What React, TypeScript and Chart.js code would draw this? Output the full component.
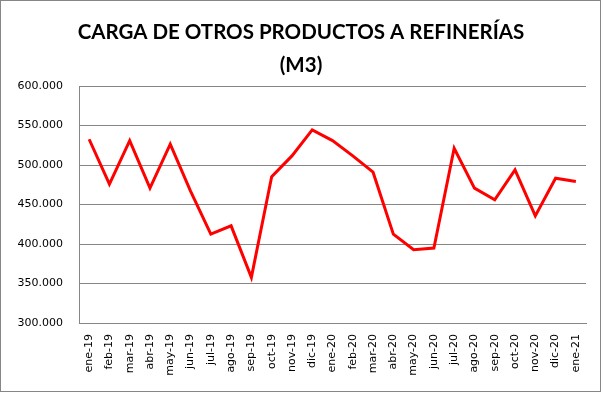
import React, { useEffect, useRef } from "react";
import { Chart, registerables } from "chart.js";

Chart.register(...registerables);

const titleLines = ["CARGA DE OTROS PRODUCTOS A REFINERÍAS", "(M3)"];

const months = [
  "ene-19", "feb-19", "mar-19", "abr-19", "may-19", "jun-19", "jul-19", "ago-19", "sep-19",
  "oct-19", "nov-19", "dic-19", "ene-20", "feb-20", "mar-20", "abr-20", "may-20", "jun-20",
  "jul-20", "ago-20", "sep-20", "oct-20", "nov-20", "dic-20", "ene-21",
];

const carga = [
  532600, 475700, 530800, 470700, 526300, 467000, 412500, 423000, 357700,
  485300, 511500, 544400, 530900, 511500, 490900, 412500, 392700, 394800,
  521200, 470700, 455900, 493800, 435600, 483300, 479000,
];

const yMin = 300000;
const yMax = 600000;
const yStep = 50000;

const fmt = (v: number) => {
  const s = Math.round(v).toString();
  return s.replace(/\B(?=(\d{3})+(?!\d))/g, ".");
};

const framePlugin = {
  id: "frame",
  afterDraw(chart: any) {
    const ctx = chart.ctx;
    ctx.save();
    ctx.strokeStyle = "#868686";
    ctx.lineWidth = 1;
    ctx.strokeRect(0.5, 0.5, chart.width - 2, chart.height - 2);
    ctx.fillStyle = "#000";
    ctx.textAlign = "center";
    ctx.textBaseline = "alphabetic";
    ctx.font = "bold 20.5px Lato";
    ctx.fillText(titleLines[0], 301, 38.5);
    ctx.fillText(titleLines[1], 301, 71.5);
    ctx.restore();
  },
};

export default function App() {
  const ref = useRef<HTMLCanvasElement>(null);
  useEffect(() => {
    document.body.style.margin = "0";
    const chart = new Chart(ref.current!, {
      type: "line",
      data: {
        labels: months,
        datasets: [
          {
            data: carga,
            borderColor: "#FF0000",
            borderWidth: 3,
            pointRadius: 0,
            tension: 0,
            fill: false,
          },
        ],
      },
      options: {
        animation: false,
        responsive: false,
        layout: { padding: { left: 0, right: 16, top: 86, bottom: 0 } },
        plugins: { legend: { display: false }, title: { display: false }, tooltip: { enabled: false } },
        scales: {
          x: {
            offset: true,
            grid: { display: false, drawTicks: false, offset: true },
            border: { color: "#868686", width: 1 },
            ticks: {
              color: "#000",
              font: { family: "DejaVu Sans", size: 11 },
              maxRotation: 90,
              minRotation: 90,
              autoSkip: false,
              padding: 11,
            },
            afterFit(scale: any) {
              scale.height = 70;
            },
          },
          y: {
            min: yMin,
            max: yMax,
            grid: { color: "#868686", drawTicks: false },
            border: { color: "#868686", width: 1 },
            ticks: {
              stepSize: yStep,
              color: "#000",
              font: { family: "DejaVu Sans", size: 11 },
              padding: 16,
              callback: (v: any) => fmt(Number(v)),
            },
            afterFit(scale: any) {
              scale.width = 79;
            },
          },
        },
      },
      plugins: [framePlugin],
    });
    return () => chart.destroy();
  }, []);
  return <canvas ref={ref} width={602} height={393} style={{ display: "block" }} />;
}
